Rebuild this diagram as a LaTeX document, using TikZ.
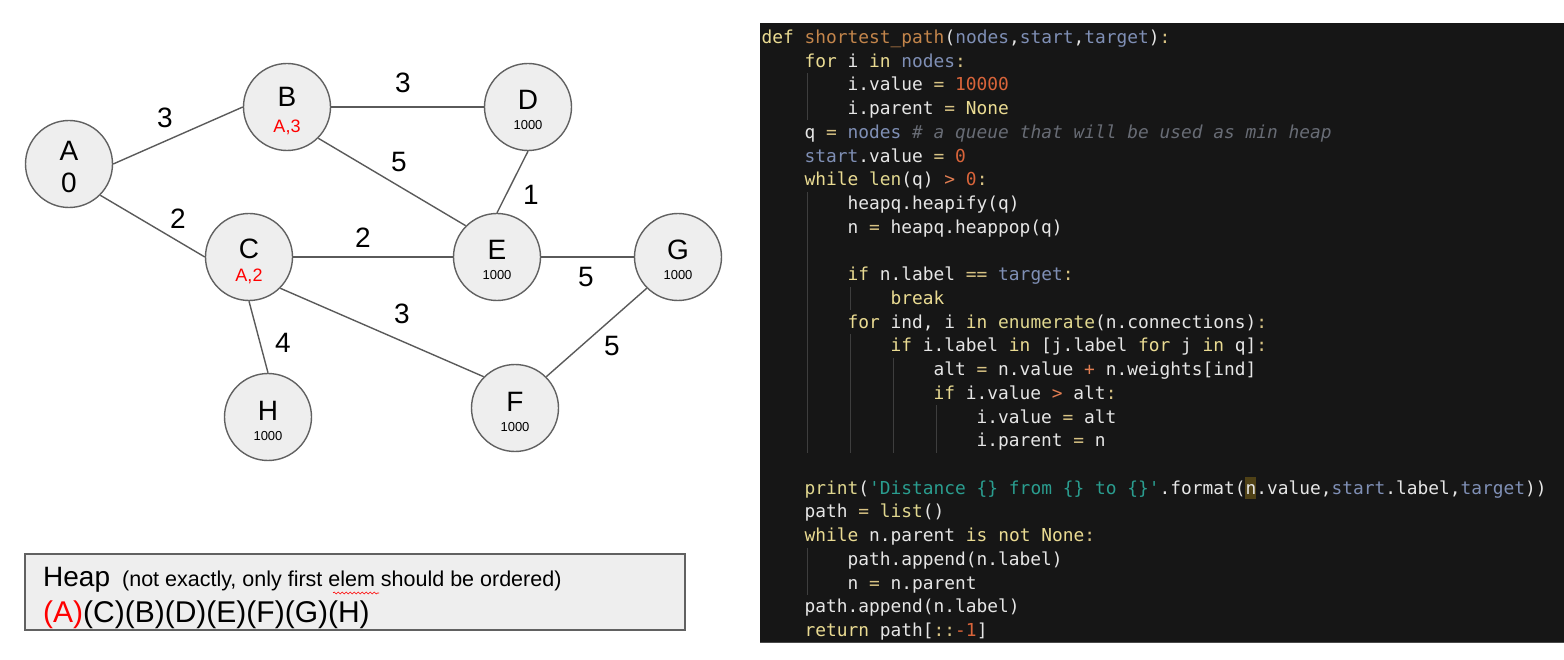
\documentclass[tikz,border=0pt]{standalone}
\usepackage{fontspec}
\setmainfont{Liberation Sans}
\setmonofont{DejaVu Sans Mono}
\usetikzlibrary{decorations.pathmorphing}

\definecolor{vfill}{HTML}{EEEEEE}
\definecolor{vline}{HTML}{616161}
\definecolor{eline}{HTML}{5A5A5A}
\definecolor{codebg}{HTML}{161616}
\definecolor{codeedge}{HTML}{4A4A4A}
\definecolor{codefg}{HTML}{E6E6E6}
\definecolor{guidecol}{HTML}{3E3E3E}
\definecolor{kwcol}{HTML}{EADB92}
\definecolor{fncol}{HTML}{C3854B}
\definecolor{pvcol}{HTML}{7F8FB5}
\definecolor{numcol}{HTML}{D9643A}
\definecolor{opcol}{HTML}{D8C384}
\definecolor{orcol}{HTML}{E27E52}
\definecolor{cmcol}{HTML}{686C75}
\definecolor{stcol}{HTML}{2A9D8F}
\definecolor{bicol}{HTML}{E0D78F}
\definecolor{hlcol}{HTML}{4F4116}

\newcommand{\kw}[1]{\textcolor{kwcol}{#1}}
\newcommand{\fn}[1]{\textcolor{fncol}{#1}}
\newcommand{\pv}[1]{\textcolor{pvcol}{#1}}
\newcommand{\num}[1]{\textcolor{numcol}{#1}}
\newcommand{\op}[1]{\textcolor{opcol}{#1}}
\newcommand{\orr}[1]{\textcolor{orcol}{#1}}
\newcommand{\cm}[1]{\textcolor{cmcol}{\itshape #1}}
\newcommand{\st}[1]{\textcolor{stcol}{#1}}
\newcommand{\bi}[1]{\textcolor{bicol}{#1}}

\begin{document}
\begin{tikzpicture}[x=1pt,y=-1pt,
	vertex/.style={circle,draw=vline,fill=vfill,line width=1.4pt,minimum size=87pt,inner sep=0pt},
	vname/.style={anchor=base,inner sep=0pt,font=\fontsize{28}{28}\selectfont},
	vval/.style={anchor=base,inner sep=0pt,font=\fontsize{13}{13}\selectfont},
	vpar/.style={anchor=base,inner sep=0pt,text=red,font=\fontsize{18}{18}\selectfont},
	weight/.style={inner sep=0pt,font=\fontsize{28}{28}\selectfont},
	link/.style={draw=eline,line width=1.4pt},
	code/.style={anchor=base west,inner sep=0pt,text=codefg,font=\ttfamily\fontsize{17.86}{23.72}\selectfont},
	guide/.style={draw=guidecol,line width=1pt}]
	\useasboundingbox (0,0) rectangle (1564,660);

	\node[vertex] (A) at (69,164) {};
	\node[vertex] (B) at (287,107) {};
	\node[vertex] (C) at (249,257) {};
	\node[vertex] (D) at (528,107) {};
	\node[vertex] (E) at (497,257) {};
	\node[vertex] (G) at (678,257) {};
	\node[vertex] (F) at (515,408) {};
	\node[vertex] (H) at (268,417) {};

	\node[vname] (A-n) at (69,161) {A};
	\node[vname] (A-v) at (69,193) {0};
	\node[vname] (B-n) at (287,107) {B};
	\node[vpar] (B-v) at (287,133) {A,3};
	\node[vname] (C-n) at (249,259) {C};
	\node[vpar] (C-v) at (249,282) {A,2};
	\node[vname] (D-n) at (528,110) {D};
	\node[vval] (D-v) at (528,130) {1000};
	\node[vname] (E-n) at (497,260) {E};
	\node[vval] (E-v) at (497,280) {1000};
	\node[vname] (G-n) at (678,260) {G};
	\node[vval] (G-v) at (678,280) {1000};
	\node[vname] (F-n) at (515,411) {F};
	\node[vval] (F-v) at (515,431) {1000};
	\node[vname] (H-n) at (268,420) {H};
	\node[vval] (H-v) at (268,440) {1000};

	\draw[link] (A.east) -- (B.west);
	\draw[link] (A.south east) -- (C.west);
	\draw[link] (B.east) -- (D.west);
	\draw[link] (B.south east) -- (E.north west);
	\draw[link] (D.south) -- (E.north);
	\draw[link] (C.east) -- (E.west);
	\draw[link] (E.east) -- (G.west);
	\draw[link] (C.south east) -- (F.north west);
	\draw[link] (C.south) -- (H.north);
	\draw[link] (G.south west) -- (F.north east);

	\node[weight] (wAB) at (165,118) {3};
	\node[weight] (wAC) at (178,219) {2};
	\node[weight] (wBD) at (403,83) {3};
	\node[weight] (wBE) at (399,162) {5};
	\node[weight] (wDE) at (531,195) {1};
	\node[weight] (wCE) at (363,238) {2};
	\node[weight] (wEG) at (586,277) {5};
	\node[weight] (wCF) at (402,314) {3};
	\node[weight] (wGF) at (612,346) {5};
	\node[weight] (wCH) at (283,343) {4};

	\draw[draw=vline,fill=vfill,line width=1.3pt] (25,554) rectangle (685,630);
	\node[anchor=base west,inner sep=0pt] (heap) at (43,586) {{\fontsize{28}{28}\selectfont Heap}\hspace{12pt}{\fontsize{21.5}{21.5}\selectfont (not exactly, only first elem should be ordered)}};
	\node[anchor=base west,inner sep=0pt,font=\fontsize{30}{30}\selectfont] (order) at (43,622) {\textcolor{red}{(A)}(C)(B)(D)(E)(F)(G)(H)};
	\draw[red,line width=0.6pt,decorate,decoration={snake,amplitude=1pt,segment length=4pt}] (333,593) -- (379,593);

	\fill[codebg] (760,23) rectangle (1564,643);
	\draw[codeedge,line width=1pt] (760,642.5) -- (1564,642.5);
	\fill[hlcol] (1245.25,477) rectangle (1256,499);

	\draw[guide] (807,73.1) -- (807,120.5);
	\draw[guide] (807,191.7) -- (807,452.6);
	\draw[guide] (850,286.6) -- (850,310.3);
	\draw[guide] (850,334) -- (850,452.6);
	\draw[guide] (893,357.7) -- (893,452.6);
	\draw[guide] (936,405.2) -- (936,452.6);
	\draw[guide] (807,547.5) -- (807,594.9);

	\node[code] (c1) at (761.5,43.5) {\kw{def} \fn{shortest\_path}(\pv{nodes},\pv{start},\pv{target})\op{:}};
	\node[code] (c2) at (804.5,67.22) {\kw{for} i \kw{in} \pv{nodes}\op{:}};
	\node[code] (c3) at (847.5,90.94) {i.value \op{=} \num{10000}};
	\node[code] (c4) at (847.5,114.66) {i.parent \op{=} \kw{None}};
	\node[code] (c5) at (804.5,138.38) {q \op{=} \pv{nodes} \cm{\# a queue that will be used as min heap}};
	\node[code] (c6) at (804.5,162.1) {\pv{start}.value \op{=} \num{0}};
	\node[code] (c7) at (804.5,185.82) {\kw{while} \bi{len}(q) \orr{>} \num{0}\op{:}};
	\node[code] (c8) at (847.5,209.54) {heapq.heapify(q)};
	\node[code] (c9) at (847.5,233.26) {n \op{=} heapq.heappop(q)};
	\node[code] (c11) at (847.5,280.7) {\kw{if} n.label \op{==} \pv{target}\op{:}};
	\node[code] (c12) at (890.5,304.42) {\kw{break}};
	\node[code] (c13) at (847.5,328.14) {\kw{for} ind, i \kw{in} \bi{enumerate}(n.connections)\op{:}};
	\node[code] (c14) at (890.5,351.86) {\kw{if} i.label \kw{in} [j.label \kw{for} j \kw{in} q]\op{:}};
	\node[code] (c15) at (933.5,375.58) {alt \op{=} n.value \orr{+} n.weights[ind]};
	\node[code] (c16) at (933.5,399.3) {\kw{if} i.value \orr{>} alt\op{:}};
	\node[code] (c17) at (976.5,423.02) {i.value \op{=} alt};
	\node[code] (c18) at (976.5,446.74) {i.parent \op{=} n};
	\node[code] (c20) at (804.5,494.18) {\bi{print}(\st{'Distance \{\} from \{\} to \{\}'}.format(n.value,\pv{start}.label,\pv{target}))};
	\node[code] (c21) at (804.5,517.9) {path \op{=} \bi{list}()};
	\node[code] (c22) at (804.5,541.62) {\kw{while} n.parent \kw{is} \kw{not} \kw{None}\op{:}};
	\node[code] (c23) at (847.5,565.34) {path.append(n.label)};
	\node[code] (c24) at (847.5,589.06) {n \op{=} n.parent};
	\node[code] (c25) at (804.5,612.78) {path.append(n.label)};
	\node[code] (c26) at (804.5,636.5) {\kw{return} path[\op{::}\num{-1}]};
\end{tikzpicture}
\end{document}
